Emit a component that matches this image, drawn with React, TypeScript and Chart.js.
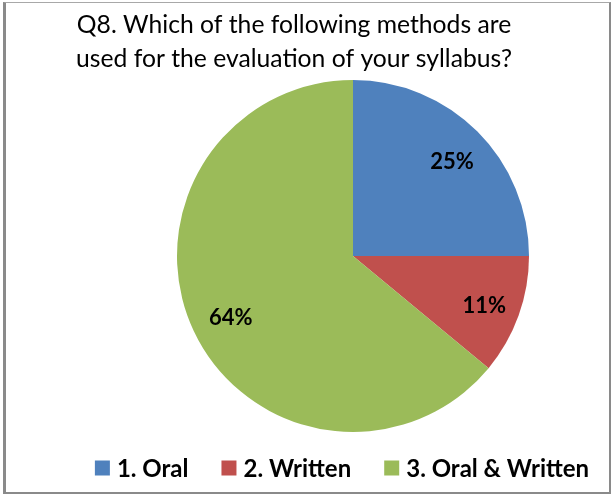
import React, { useEffect, useRef } from "react";
import { Chart, registerables } from "chart.js";

Chart.register(...registerables);

const categories = ["1. Oral", "2. Written", "3. Oral & Written"];
const values = [25, 11, 64];
const colors = ["#4F81BD", "#C0504D", "#9BBB59"];
const titleLines = [
  "Q8. Which of the following methods are",
  "used for the evaluation of your syllabus?",
];

const FONT = "Lato, 'Open Sans', sans-serif";

const overlayPlugin = {
  id: "overlay",
  afterDatasetsDraw(chart: any) {
    const ctx: CanvasRenderingContext2D = chart.ctx;
    const meta = chart.getDatasetMeta(0);
    const total = values.reduce((a, b) => a + b, 0);
    ctx.save();
    ctx.fillStyle = "#000";
    ctx.font = `bold 22px ${FONT}`;
    ctx.textAlign = "center";
    ctx.textBaseline = "middle";
    meta.data.forEach((arc: any, i: number) => {
      const p = arc.getProps(["x", "y", "startAngle", "endAngle", "outerRadius"], true);
      const mid = (p.startAngle + p.endAngle) / 2;
      const r = p.outerRadius * 0.78;
      ctx.fillText(
        Math.round((values[i] / total) * 100) + "%",
        p.x + Math.cos(mid) * r + 2,
        p.y + Math.sin(mid) * r + 3
      );
    });

    // title
    ctx.font = `24.7px ${FONT}`;
    ctx.textBaseline = "alphabetic";
    titleLines.forEach((l, i) => ctx.fillText(l, 294, 33 + i * 34));

    // legend
    ctx.font = `bold 24px ${FONT}`;
    ctx.textAlign = "left";
    ctx.textBaseline = "middle";
    const box = 15;
    const gap = 7;
    const itemGap = 33;
    const widths = categories.map((c) => box + gap + ctx.measureText(c).width);
    const totalW = widths.reduce((a, b) => a + b, 0) + itemGap * (categories.length - 1);
    let x = 342 - totalW / 2;
    const cy = 468;
    categories.forEach((c, i) => {
      ctx.fillStyle = colors[i];
      ctx.fillRect(x, cy - box / 2, box, box);
      ctx.fillStyle = "#000";
      ctx.fillText(c, x + box + gap, cy + 1);
      x += widths[i] + itemGap;
    });
    ctx.restore();
  },
};

export default function App() {
  const ref = useRef<HTMLCanvasElement>(null);
  useEffect(() => {
    if (!ref.current) return;
    const chart = new Chart(ref.current, {
      type: "pie",
      data: {
        labels: categories,
        datasets: [
          {
            data: values,
            backgroundColor: colors,
            borderWidth: 0,
          },
        ],
      },
      options: {
        responsive: false,
        animation: false,
        layout: { padding: { top: 80, bottom: 63, left: 177, right: 82 } },
        plugins: {
          legend: { display: false },
          title: { display: false },
          tooltip: { enabled: false },
        },
      },
      plugins: [overlayPlugin],
    });
    return () => chart.destroy();
  }, []);

  return (
    <div style={{ position: "fixed", left: 0, top: 0, width: 611, height: 495, background: "#fff" }}>
      <canvas ref={ref} width={611} height={495} style={{ position: "absolute", left: 0, top: 0 }} />
      <div
        style={{
          position: "absolute",
          left: 3,
          top: 2,
          width: 603,
          height: 489,
          borderLeft: "3px solid #8a8a8a",
          borderTop: "1px solid #a8a8a8",
          borderRight: "2px solid #8a8a8a",
          borderBottom: "2px solid #8a8a8a",
          pointerEvents: "none",
        }}
      />
    </div>
  );
}
